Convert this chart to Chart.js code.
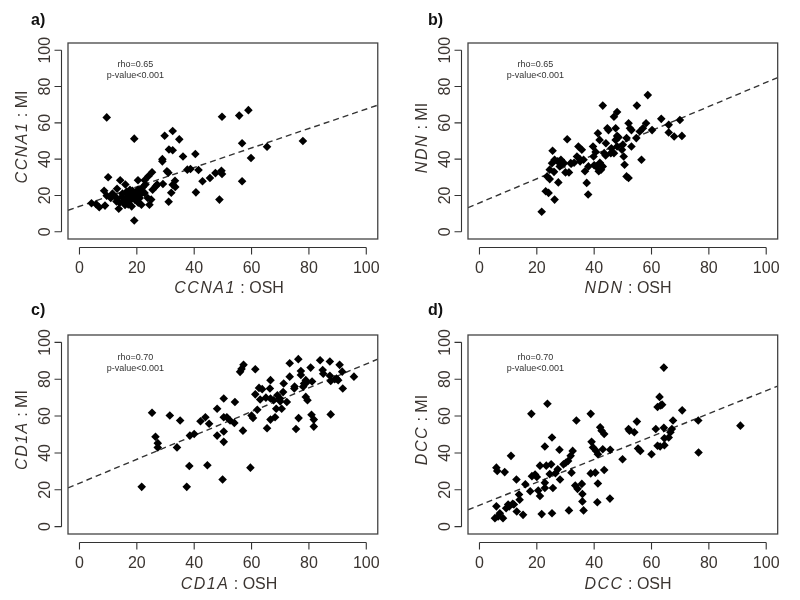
<!DOCTYPE html>
<html>
<head>
<meta charset="utf-8">
<script src="https://cdn.jsdelivr.net/npm/chart.js@4.4.0/dist/chart.umd.min.js"></script>
<style>
  body { margin: 0; background: #fff; }
  #wrap { position: relative; width: 800px; height: 600px; font-family: "Liberation Sans", Arial, sans-serif; color: #3b3531; }
  canvas { position: absolute; }
  .tag { position: absolute; font-weight: bold; font-size: 16px; color: #111; line-height: 1; }
  .ttl { position: absolute; font-size: 16px; white-space: nowrap; line-height: 1; transform: translate(-50%, -50%); }
  .ttl.v { transform: translate(-50%, -50%) rotate(-90deg); }
  .ttl i { letter-spacing: 1.5px; }
</style>
</head>
<body>
<div id="wrap">
  <canvas id="pa" width="400" height="300" style="left:0;top:0"></canvas>
  <canvas id="pb" width="400" height="300" style="left:400px;top:0"></canvas>
  <canvas id="pc" width="400" height="300" style="left:0;top:300px"></canvas>
  <canvas id="pd" width="400" height="300" style="left:400px;top:300px"></canvas>

  <div class="tag" style="left:31px;top:12px">a)</div>
  <div class="tag" style="left:428px;top:12px">b)</div>
  <div class="tag" style="left:31px;top:302px">c)</div>
  <div class="tag" style="left:428px;top:302px">d)</div>

  <div class="ttl v" style="left:22px;top:137px"><i>CCNA1</i> : MI</div>
  <div class="ttl" style="left:229px;top:288px"><i>CCNA1</i> : OSH</div>
  <div class="ttl v" style="left:422px;top:138px"><i>NDN</i> : MI</div>
  <div class="ttl" style="left:628px;top:288px"><i>NDN</i> : OSH</div>
  <div class="ttl v" style="left:22px;top:430px"><i>CD1A</i> : MI</div>
  <div class="ttl" style="left:229px;top:584px"><i>CD1A</i> : OSH</div>
  <div class="ttl v" style="left:422px;top:430px"><i>DCC</i> : MI</div>
  <div class="ttl" style="left:628px;top:584px"><i>DCC</i> : OSH</div>
</div>
<script>
const tickValues = [0, 20, 40, 60, 80, 100];
const axisMin = -4;
const axisMax = 104;

// a) CCNA1
const ccna1Osh = [4.2, 5.8, 6.9, 8.6, 8.9, 9.5, 9.5, 10, 10.9, 11.5, 12.9, 13.1, 13.7, 14.2, 14.8, 15.4, 15.9, 16.5, 17.1, 17.6,
  18.2, 18.7, 19.1, 19.1, 19.3, 19.9, 20.4, 20.4, 21, 21.6, 22.7, 22.7, 23.8, 24, 24.4, 25, 25.3, 25.5, 26.6, 27.1,
  28.9, 28.9, 29.1, 29.7, 30.5, 31.1, 31.2, 32.5, 32.5, 32.5, 33.3, 33.4, 34.8, 36.1, 37.6, 38.7, 40.4, 40.6, 41.5, 42.9,
  45.5, 47.4, 48.8, 49.5, 49.7, 49.7, 55.7, 56.7, 56.7, 58.9, 59.8, 65.4, 77.9,
  12, 14, 15, 16, 16.8, 17.5, 18, 18.5, 19.5, 20.5, 17, 13, 22, 23, 21.5, 31, 32, 18.2, 16];
const ccna1Mi = [15.7, 15.2, 13.5, 22.6, 14.4, 63, 19.9, 30, 18.6, 21, 16.7, 23.7, 12.7, 28.4, 19.2, 16.5, 14.8, 22.2, 20.4, 23.1,
  18.6, 21.4, 51.3, 6.2, 17.7, 20.4, 28.4, 23.1, 18.6, 14.9, 28.4, 21.4, 18.6, 30.6, 14.9, 17.7, 32.8, 23.1, 25, 26,
  38.8, 40, 26.3, 52.9, 33.3, 16.5, 45.3, 55.5, 44.9, 25.9, 28.1, 24.7, 50.9, 41.5, 34.2, 34.6, 42.8, 21.7, 34, 27.8,
  29.6, 32.3, 17.7, 33.6, 63.4, 31.8, 64, 48.8, 27.8, 67, 40.6, 46.8, 50,
  20, 16, 21, 18, 19, 17, 20, 22.5, 19, 16, 15, 18.5, 24.5, 26, 21, 32.5, 21.5, 14, 26];

// b) NDN
const ndnOsh = [21.7, 23.1, 24.1, 26.2, 27.5, 23.6, 24.5, 25.3, 25.5, 26.2, 27.3, 28.4, 29.5, 30.6, 31.2, 30, 31.8, 34, 34.5, 35.7,
  35.1, 36.3, 36.8, 37.4, 37.9, 39.6, 39.8, 40, 40.7, 41.3, 41.9, 41.6, 42.4, 43, 43.5, 44.1, 44.6, 45.8, 46.9, 47.5,
  48, 48, 47.5, 46.9, 48, 49.7, 50.3, 50.6, 51.3, 52, 52, 52.5, 51.3, 53, 53, 54.9, 54.7, 55.9, 56.5, 57,
  58.1, 58.7, 60.2, 63.4, 66, 66, 67.9, 69.9, 70.6,
  33, 35, 38, 42, 44, 45, 48.5, 50, 43, 28, 26, 46, 24.5, 32, 40.5];
const ndnMi = [11, 22.3, 21.4, 17.7, 27.2, 30.5, 34.2, 37.8, 44.6, 39.7, 38.8, 39.7, 37.8, 51, 32.7, 32.7, 37.8, 41.5, 47, 45.2,
  38.8, 39.7, 33.3, 26.9, 20.5, 47, 41.5, 36.6, 36, 54.3, 50.6, 33.3, 34.2, 69.5, 43.3, 48.8, 57, 43.3, 63.4, 57,
  66, 52.8, 50.6, 43.3, 47, 45.2, 41.5, 36.9, 30.5, 29.6, 59.8, 57, 51.6, 47, 56, 69.5, 51.6, 55.2, 39.7, 57,
  59.8, 75.3, 56, 62.2, 58.9, 54.7, 52.5, 61.6, 52.8,
  38, 40, 36, 38, 42, 56, 52, 48, 36, 36, 33, 46, 29, 37.5, 44];

// c) CD1A
const cd1aOsh = [21.7, 25.3, 26.5, 27.3, 27.3, 31.5, 34, 35.1, 37.4, 38.3, 38.5, 40, 42.2, 43.9, 45.2, 44.6, 48, 48, 49.9, 50.3,
  50.3, 50.3, 50.3, 51.4, 52.5, 54.2, 54, 57, 56.5, 57.2, 59.6, 60, 61.3, 61.3, 62, 62.6, 63.7, 65.4, 66.6, 66.6,
  66.4, 66.6, 67.7, 68.2, 68.6, 69, 69.9, 70.5, 71.2, 72.3, 73.3, 73.3, 74.9, 75.5, 76.3, 76.4, 77.2, 77.2, 78, 78.3,
  78.9, 79.5, 78.9, 80.6, 81.1, 80.9, 81.7, 81.7, 83.9, 84.8, 87.3, 87.3, 87.6, 87.6, 89.6, 90.7, 91.6, 91.8, 95.7, 90.2,
  56, 60.5, 63, 70, 75, 79, 85, 89, 71, 65];
const cd1aMi = [21.6, 61.8, 48.8, 45.3, 43, 60.3, 43, 57.6, 21.6, 32.9, 49.4, 50.3, 57.2, 59.4, 55.8, 33.3, 64, 49.4, 25.6, 69.5,
  59.4, 51.6, 46, 59.4, 57.6, 67.6, 56.3, 52.1, 85.6, 87.8, 32, 60.3, 85.4, 71.8, 63.4, 75.3, 74.6, 53.4, 58.1, 79.5,
  75, 69.5, 68.6, 59.4, 64, 71.3, 69.5, 64, 77.7, 67.6, 88.7, 81.4, 75, 53, 90.9, 58.9, 84.5, 82.3, 75.9, 77.7,
  70.4, 68.6, 79.5, 86.3, 78.8, 60.7, 58.1, 54.3, 90.3, 85, 89.6, 81.9, 79, 60.9, 80.4, 87.8, 84.1, 75, 81.4, 79.5,
  84, 59, 69, 68, 76, 78, 83, 80, 73, 70];

// d) DCC
const dccOsh = [5.9, 6.2, 5.4, 6.5, 5.9, 7.1, 8.2, 8.8, 9.3, 11, 10.4, 11.6, 12.9, 13, 13.8, 14, 15.2, 17.7, 18.1, 18.3,
  19.4, 20.5, 21.1, 21.1, 21.7, 22.8, 23.7, 22.8, 22.8, 23.3, 24.5, 25, 25.3, 25.6, 25.3, 27.3, 27.9, 28.1, 29.3, 30.1,
  30.9, 31.8, 32.5, 32.1, 31.2, 33.8, 33.4, 34.2, 35.7, 35.9, 35.9, 36.3, 38.8, 39.1, 39.6, 38.8, 40.4, 40.7, 41.3, 41.3,
  41.1, 42.1, 42.6, 43, 43.5, 43.5, 45.6, 45.5, 49.9, 52, 52.3, 54, 54.9, 55.3, 56.1, 60, 61.5, 62.1, 62.1, 62.8,
  63.2, 63.7, 63, 64.3, 64.3, 64.5, 64.5, 66, 66.6, 67.1, 67.5, 70.7, 76.3, 76.4, 91,
  20, 16, 10, 26.5, 12];
const dccMi = [32, 30.2, 4.6, 5.5, 11, 7.3, 4.6, 29.6, 10, 38.4, 11, 12.4, 25.6, 8.2, 17.4, 14.6, 6.4, 19.2, 61.2, 27.4,
  28.3, 19.6, 16.6, 33.1, 6.8, 43.5, 66.7, 23.8, 21, 33.1, 28.5, 33.8, 48.4, 21, 7.3, 31.1, 41.7, 25.6, 33.8, 34.7,
  35.6, 38.4, 41.1, 29.3, 8.8, 57.6, 22.3, 20.5, 23.2, 17.7, 13.7, 8.8, 61.2, 46, 43, 28.9, 29.3, 41.1, 39.3, 23.4,
  13.2, 53.9, 52.1, 42, 50.3, 30.7, 41.7, 15.2, 36.6, 53, 52.1, 51.2, 57, 42.4, 41.1, 39.3, 53, 43.9, 64.9, 70.4,
  65.8, 66.2, 43.5, 86.3, 53.6, 47.9, 44.2, 48.4, 51.2, 53, 57.6, 63.1, 57.6, 40.2, 54.8,
  27, 23, 12, 29, 12];

// dashed fitted lines and annotations
const fitIntercepts = [14.0, 15.9, 23.6, 11.6];
const fitSlopes = [0.536, 0.664, 0.647, 0.622];
const rhoLabels = ['rho=0.65', 'rho=0.65', 'rho=0.70', 'rho=0.70'];
const pLabel = 'p-value<0.001';

const textColor = '#3b3531';
const fontFamily = '"Liberation Sans", Arial, sans-serif';

const rStyle = {
  id: 'rStyle',
  afterDatasetsDraw(chart, args, opts) {
    const { ctx, chartArea: a, scales: { x, y } } = chart;
    ctx.save();
    ctx.strokeStyle = '#444';
    ctx.lineWidth = 1.3;
    ctx.strokeRect(a.left, a.top, a.right - a.left, a.bottom - a.top);

    // R style axes: detached line + outward ticks
    ctx.strokeStyle = '#333';
    ctx.lineWidth = 1.1;
    const yb = Math.round(a.bottom + 8) + 0.5;
    const xl = Math.round(a.left - 7) + 0.5;
    const first = tickValues[0], last = tickValues[tickValues.length - 1];
    ctx.beginPath();
    ctx.moveTo(x.getPixelForValue(first), yb);
    ctx.lineTo(x.getPixelForValue(last), yb);
    tickValues.forEach(v => {
      const px = x.getPixelForValue(v);
      ctx.moveTo(px, yb);
      ctx.lineTo(px, yb + 7);
    });
    ctx.moveTo(xl, y.getPixelForValue(first));
    ctx.lineTo(xl, y.getPixelForValue(last));
    tickValues.forEach(v => {
      const py = y.getPixelForValue(v);
      ctx.moveTo(xl, py);
      ctx.lineTo(xl - 7, py);
    });
    ctx.stroke();

    ctx.fillStyle = '#333';
    ctx.font = '9px ' + fontFamily;
    ctx.textAlign = 'center';
    ctx.textBaseline = 'middle';
    ctx.fillText(opts.rho, x.getPixelForValue(19.5), y.getPixelForValue(92));
    ctx.fillText(pLabel, x.getPixelForValue(19.5), y.getPixelForValue(86));
    ctx.restore();
  }
};

function makePanel(id, xs, ys, idx, padTop, padRight, xAxisHeight) {
  const points = xs.map((v, i) => ({ x: v, y: ys[i] }));
  const b = fitIntercepts[idx], m = fitSlopes[idx];
  const fit = [axisMin, axisMax].map(v => ({ x: v, y: b + m * v }));

  new Chart(document.getElementById(id), {
    type: 'scatter',
    data: {
      datasets: [
        {
          data: points,
          pointStyle: 'rectRot',
          pointRadius: 4.3,
          backgroundColor: '#000',
          borderColor: '#000',
          borderWidth: 0
        },
        {
          type: 'line',
          data: fit,
          borderColor: '#333',
          borderWidth: 1.4,
          borderDash: [6, 4],
          pointRadius: 0,
          fill: false
        }
      ]
    },
    options: {
      responsive: false,
      animation: false,
      devicePixelRatio: 1,
      layout: { padding: { left: 0, top: padTop, right: padRight, bottom: 0 } },
      plugins: {
        legend: { display: false },
        tooltip: { enabled: false },
        rStyle: { rho: rhoLabels[idx] }
      },
      scales: {
        x: {
          type: 'linear',
          min: axisMin,
          max: axisMax,
          afterBuildTicks: s => { s.ticks = tickValues.map(v => ({ value: v })); },
          afterFit: s => { s.height = xAxisHeight; },
          grid: { display: false, drawTicks: false },
          border: { display: false },
          ticks: {
            autoSkip: false,
            maxRotation: 0,
            padding: 20,
            color: textColor,
            font: { family: fontFamily, size: 16 }
          }
        },
        y: {
          type: 'linear',
          min: axisMin,
          max: axisMax,
          afterBuildTicks: s => { s.ticks = tickValues.map(v => ({ value: v })); },
          afterFit: s => { s.width = 68; },
          grid: { display: false, drawTicks: false },
          border: { display: false },
          ticks: {
            autoSkip: false,
            minRotation: 90,
            maxRotation: 90,
            crossAlign: 'center',
            padding: 9,
            color: textColor,
            font: { family: fontFamily, size: 16 }
          }
        }
      }
    },
    plugins: [rStyle]
  });
}

makePanel('pa', ccna1Osh, ccna1Mi, 0, 43, 10, 61);
makePanel('pb', ndnOsh, ndnMi, 1, 43, 12, 61);
makePanel('pc', cd1aOsh, cd1aMi, 2, 35, 10, 66);
makePanel('pd', dccOsh, dccMi, 3, 35, 12, 66);
</script>
</body>
</html>
